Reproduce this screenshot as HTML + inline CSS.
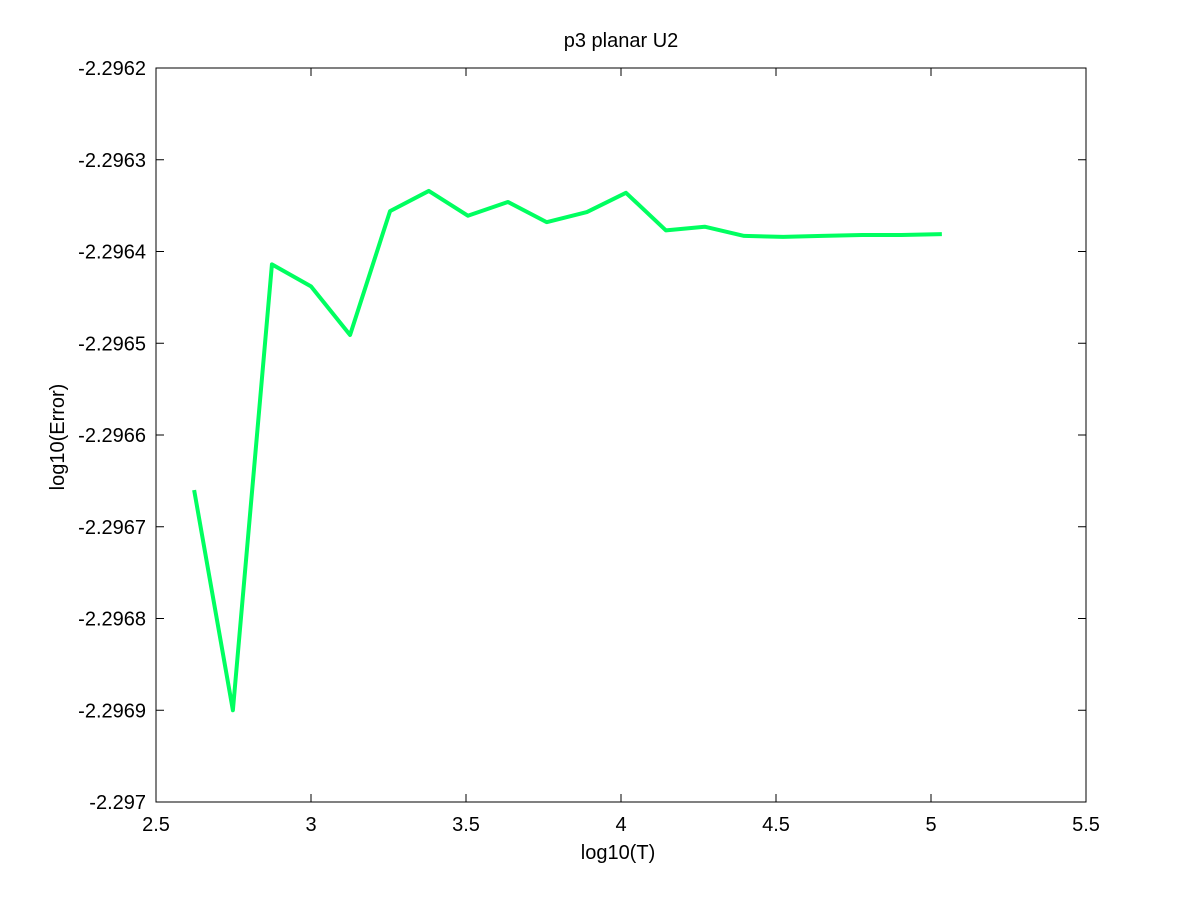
<!DOCTYPE html>
<html><head><meta charset="utf-8"><style>
body{margin:0;background:#fff}
svg text{font-family:"Liberation Sans",sans-serif;font-size:20px;fill:#000}
</style></head><body>
<svg id="c" width="1200" height="901"></svg>
<script>
const xs=[2.623,2.748,2.874,3.0,3.126,3.255,3.38,3.506,3.635,3.76,3.89,4.016,4.145,4.27,4.397,4.523,4.65,4.778,4.904,5.035];
const ys=[-2.29666,-2.29690,-2.296414,-2.296438,-2.296491,-2.296356,-2.296334,-2.296361,-2.296346,-2.296368,-2.296357,-2.296336,-2.296377,-2.296373,-2.296383,-2.296384,-2.296383,-2.296382,-2.296382,-2.296381];
const xTicks=[2.5,3,3.5,4,4.5,5,5.5];
const xLabels=["2.5","3","3.5","4","4.5","5","5.5"];
const yTicks=[-2.2962,-2.2963,-2.2964,-2.2965,-2.2966,-2.2967,-2.2968,-2.2969,-2.297];
const yLabels=["-2.2962","-2.2963","-2.2964","-2.2965","-2.2966","-2.2967","-2.2968","-2.2969","-2.297"];
const L=156,R=1086,T=68,B=802;
const sx=v=>L+(v-2.5)/3*(R-L);
const sy=v=>T+(-2.2962-v)/0.0008*(B-T);
const svg=document.getElementById('c');const NS='http://www.w3.org/2000/svg';
function mk(t,a,txt){const e=document.createElementNS(NS,t);for(const k in a)e.setAttribute(k,a[k]);if(txt!=null)e.textContent=txt;svg.appendChild(e);return e;}
let e=mk('rect',{x:L,y:T,width:R-L,height:B-T,fill:'none',stroke:'#000','stroke-width':1});


xTicks.forEach((v,i)=>{const x=sx(v);
e=mk('path',{d:`M${x} ${B}v-8M${x} ${T}v8`,stroke:'#000'});


e=mk('text',{x:x,y:B+29,'text-anchor':'middle'},xLabels[i]);

});
yTicks.forEach((v,i)=>{const y=sy(v);
e=mk('path',{d:`M${L} ${y}h8M${R} ${y}h-8`,stroke:'#000'});


e=mk('text',{x:L-10,y:y+7,'text-anchor':'end'},yLabels[i]);

});
e=mk('text',{x:621,y:47,'text-anchor':'middle'},'p3 planar U2');


e=mk('text',{x:618,y:859,'text-anchor':'middle'},'log10(T)');


e=mk('text',{x:64,y:437,'text-anchor':'middle',transform:'rotate(-90 64 437)'},'log10(Error)');


e=mk('polyline',{points:xs.map((v,i)=>sx(v)+','+sy(ys[i])).join(' '),fill:'none',stroke:'#00ff60','stroke-width':4,'stroke-linejoin':'round'});


</script></body></html>
